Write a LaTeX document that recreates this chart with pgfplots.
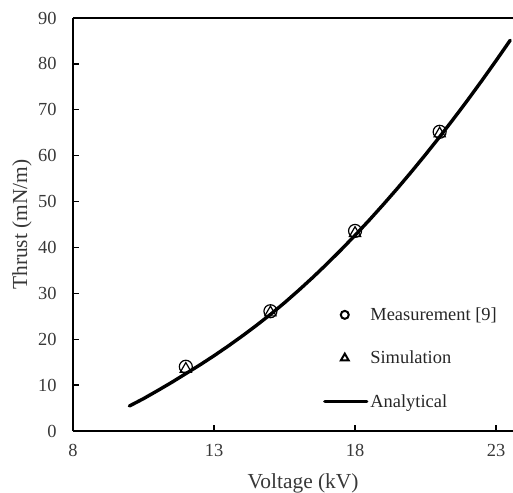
\documentclass[border=0pt]{standalone}
\usepackage{pgfplots}
\pgfplotsset{compat=1.18}
\usepackage{fontspec}
\setmainfont{Liberation Serif}
\begin{document}
\begin{tikzpicture}
\useasboundingbox (-73bp,-62bp) rectangle (440bp,431bp);
\begin{axis}[
  at={(0,0)}, anchor=south west,
  scale only axis,
  width=440bp, height=413bp,
  xmin=8, xmax=23.6, ymin=0, ymax=90,
  xtick={8,13,18,23}, ytick={0,10,...,90},
  axis x line*=bottom, axis y line*=left,
  axis line style={line width=1.5bp,-},
  tick style={line width=1.3bp,black},
  tick align=inside,
  major tick length=6bp,
  /pgf/number format/assume math mode=true,
  ticklabel style={font=\fontsize{18.5}{21}\selectfont, color=black!78},
  xticklabel style={yshift=-10bp},
  yticklabel style={xshift=-13bp},
  xlabel={Voltage (kV)}, ylabel={Thrust (mN/m)},
  label style={font=\fontsize{21.5}{24}\selectfont, color=black!78},
  xlabel style={at={(axis description cs:0.523,-0.128)}, anchor=center},
  ylabel style={at={(axis description cs:-0.116,0.5)}, anchor=center},
  legend style={draw=none, fill=none, inner sep=0pt, outer sep=0pt,
    at={(axis cs:16.87,27.3)}, anchor=north west,
    font=\fontsize{18.5}{21}\selectfont, row sep=25bp, cells={anchor=west},
    text=black!85, /tikz/every even column/.style={column sep=2bp}},
  clip=false,
]
\draw[line width=1.5bp] (rel axis cs:0,1) -- (rel axis cs:1,1);
\addplot[only marks, mark=o, mark size=6.5bp, line width=1.2bp,
  legend image code/.code={\path[draw=none] (0bp,0) -- (42bp,0);
    \path[draw=black, line width=2bp] plot[mark=o, mark size=4bp] coordinates {(20bp,0)};}]
  coordinates {(12,14.0) (15,26.1) (18,43.6) (21,65.2)};
\addlegendentry{Measurement [9]}
\addplot[only marks, mark=triangle, mark size=6.5bp, line width=1.2bp,
  legend image code/.code={\path[draw=none] (0bp,0) -- (42bp,0);
    \path[draw=black, line width=2bp] plot[mark=triangle, mark size=4.5bp] coordinates {(20bp,0)};}]
  coordinates {(12,13.5) (15,25.8) (18,43.1) (21,64.8)};
\addlegendentry{Simulation}
\addplot[line width=3.4bp, line cap=round, legend image code/.code={\draw[line width=3.2bp] (0bp,0) -- (42bp,0);}] coordinates {
(10,5.45) (10.5,7.05) (11,8.80) (11.5,10.60) (12,12.50) (12.5,14.40) (13,16.40)
(13.5,18.50) (14,20.70) (14.5,23.00) (15,25.40) (15.5,27.95) (16,30.65) (16.5,33.46)
(17,36.40) (17.5,39.46) (18,42.64) (18.5,45.93) (19,49.34) (19.5,52.86) (20,56.50)
(20.5,60.25) (21,64.11) (21.5,68.09) (22,72.18) (22.5,76.39) (23,80.71) (23.5,85.14)};
\addlegendentry{Analytical}
\end{axis}
\end{tikzpicture}
\end{document}
